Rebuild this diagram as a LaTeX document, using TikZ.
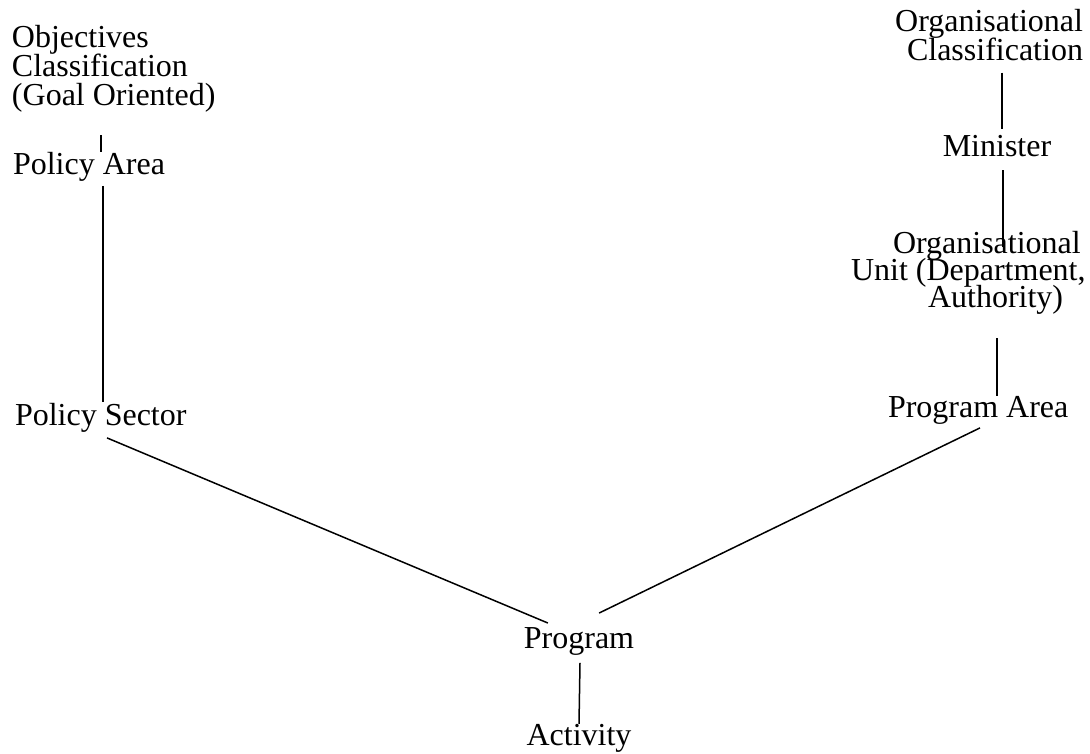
\documentclass[tikz,border=0pt]{standalone}
\usepackage{fontspec}
\setmainfont{Liberation Serif}
\newcommand\lblfont{\fontsize{32}{29}\selectfont\lineskiplimit=-30pt\relax}
\newcommand\tightfont{\fontsize{32}{27}\selectfont\lineskiplimit=-30pt\relax}
\begin{document}
\begin{tikzpicture}[x=1pt,y=1pt,
  lbl/.style={inner sep=0pt,outer sep=0pt,font=\lblfont},
  tight/.style={font=\tightfont},
  conn/.style={line width=1.5pt}]
\useasboundingbox (0,0) rectangle (1090,753);
% left column
\node[lbl,align=left,anchor=north west] (obj) at (12,728) {Objectives\\Classification\\(Goal Oriented)};
\node[lbl,anchor=base west] (pa) at (13,578) {Policy Area};
\node[lbl,anchor=base west] (ps) at (15,327) {Policy Sector};
% right column
\node[lbl,align=right,anchor=north east] (orgc) at (1083,744) {Organisational\\Classification};
\node[lbl,anchor=base] (min) at (997,596) {Minister};
\node[lbl,tight,align=left,anchor=north west] (unit) at (851,522) {\hspace*{42pt}Organisational\\Unit (Department,\\\hspace*{77pt}Authority)};
\node[lbl,anchor=base west] (pra) at (888,335) {Program Area};
% bottom
\node[lbl,anchor=base] (prog) at (579,105) {Program};
\node[lbl,anchor=base] (act) at (579,8) {Activity};
% connectors
\draw[conn] ([xshift=89pt,yshift=-23pt]obj.south west) -- ([xshift=88pt,yshift=1pt]pa.north west);
\draw[conn] ([xshift=90pt,yshift=-4pt]pa.south west) -- ([xshift=88pt,yshift=2pt]ps.north west);
\draw[conn] ([xshift=92pt,yshift=-5pt]ps.south west) -- ([xshift=24pt,yshift=4pt]prog.north west);
\draw[conn] ([xshift=92pt,yshift=-3pt]pra.south west) -- ([xshift=-35pt,yshift=14pt]prog.north east);
\draw[conn] ([xshift=1pt,yshift=-8pt]prog.south) -- (act.north);
\draw[conn] ([xshift=-81pt,yshift=-12pt]orgc.south east) -- ([xshift=5pt,yshift=7pt]min.north);
\draw[conn] ([xshift=6pt,yshift=-13pt]min.south) -- ([xshift=152pt,yshift=-16pt]unit.north west);
\draw[conn] ([xshift=146pt,yshift=-24pt]unit.south west) -- ([xshift=109pt,yshift=1pt]pra.north west);
\end{tikzpicture}
\end{document}
